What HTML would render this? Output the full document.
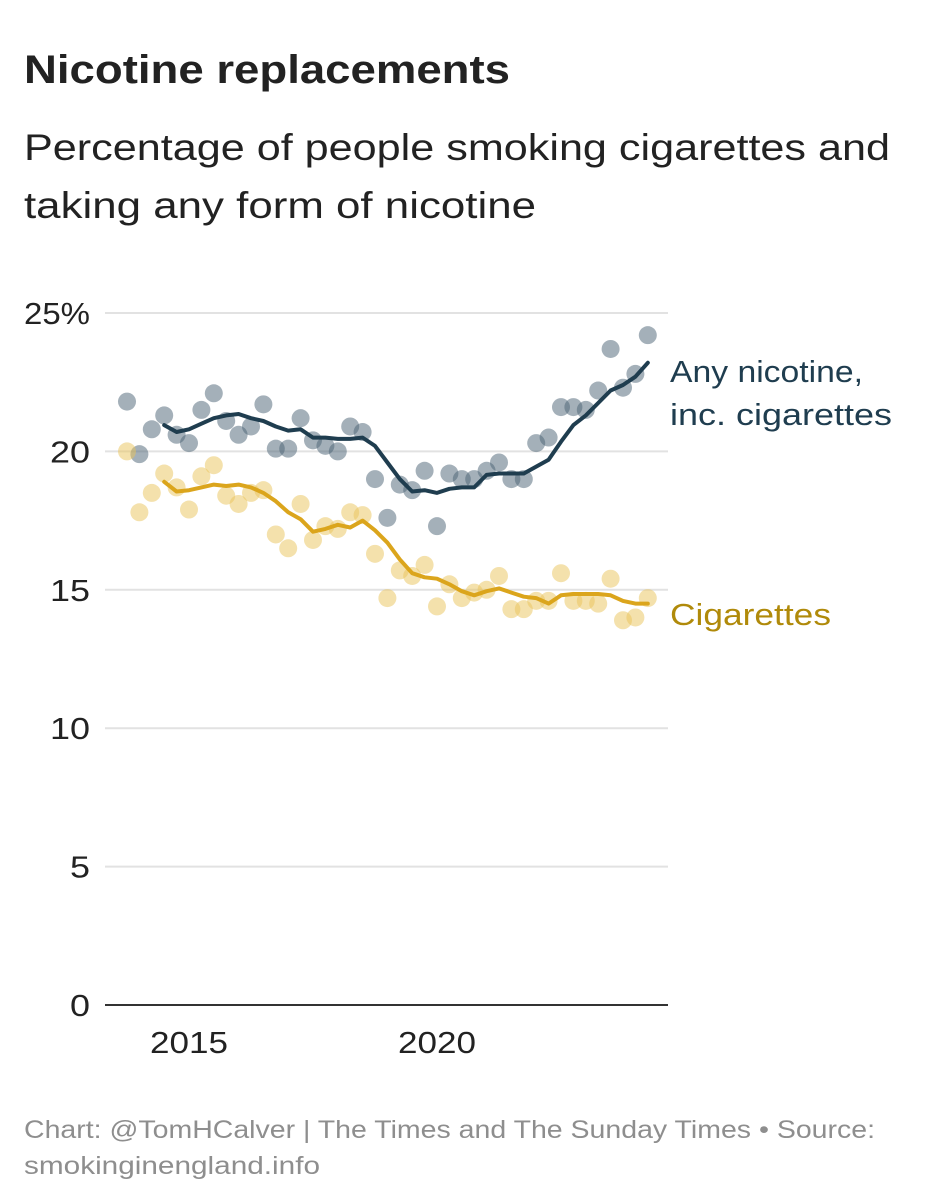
<!DOCTYPE html>
<html><head><meta charset="utf-8"><style>
body{margin:0;background:#fff;}
svg{display:block;font-family:"Liberation Sans",sans-serif;}
</style></head><body>
<svg id="chart" width="943" height="1200" viewBox="0 0 943 1200">
<text x="24" y="83" font-size="40" font-weight="bold" fill="#222" textLength="486" lengthAdjust="spacingAndGlyphs">Nicotine replacements</text>
<text x="24" y="160" font-size="37" fill="#222" textLength="866" lengthAdjust="spacingAndGlyphs">Percentage of people smoking cigarettes and</text>
<text x="24" y="218" font-size="37" fill="#222" textLength="512" lengthAdjust="spacingAndGlyphs">taking any form of nicotine</text>
<g id="grid"></g>
<g id="yticks"></g>
<g id="xticks"></g>
<g id="pts"></g>
<g id="lines"></g>
<text x="670" y="382" font-size="31" fill="#1f3d4f" textLength="193" lengthAdjust="spacingAndGlyphs">Any nicotine,</text>
<text x="670" y="425" font-size="31" fill="#1f3d4f" textLength="222" lengthAdjust="spacingAndGlyphs">inc. cigarettes</text>
<text x="670" y="625" font-size="31" fill="#b08a0a" textLength="161" lengthAdjust="spacingAndGlyphs">Cigarettes</text>
<text x="24" y="1138" font-size="25" fill="#8e8e8e" textLength="851" lengthAdjust="spacingAndGlyphs">Chart: @TomHCalver | The Times and The Sunday Times • Source:</text>
<text x="24" y="1174" font-size="25" fill="#8e8e8e" textLength="296" lengthAdjust="spacingAndGlyphs">smokinginengland.info</text>
</svg>
<script>
const yTicks=[0,5,10,15,20,25];
const yTickLabels=["0","5","10","15","20","25%"];
const xTicks=[2015,2020];
const xTickLabels=["2015","2020"];
const pointStart=2013.75;
const anyPoints=[21.8,19.9,20.8,21.3,20.6,20.3,21.5,22.1,21.1,20.6,20.9,21.7,20.1,20.1,21.2,20.4,20.2,20.0,20.9,20.7,19.0,17.6,18.8,18.6,19.3,17.3,19.2,19.0,19.0,19.3,19.6,19.0,19.0,20.3,20.5,21.6,21.6,21.5,22.2,23.7,22.3,22.8,24.2];
const cigPoints=[20.0,17.8,18.5,19.2,18.7,17.9,19.1,19.5,18.4,18.1,18.5,18.6,17.0,16.5,18.1,16.8,17.3,17.2,17.8,17.7,16.3,14.7,15.7,15.5,15.9,14.4,15.2,14.7,14.9,15.0,15.5,14.3,14.3,14.6,14.6,15.6,14.6,14.6,14.5,15.4,13.9,14.0,14.7];
const lineStart=2014.5;
const anyTrend=[20.95,20.7,20.8,21.0,21.2,21.3,21.35,21.2,21.1,20.9,20.75,20.8,20.5,20.5,20.45,20.45,20.5,20.2,19.6,19.0,18.55,18.6,18.5,18.65,18.7,18.7,19.15,19.2,19.2,19.2,19.45,19.7,20.35,20.95,21.3,21.75,22.2,22.4,22.7,23.2];
const cigTrend=[18.9,18.55,18.6,18.7,18.8,18.75,18.8,18.7,18.5,18.2,17.8,17.55,17.1,17.2,17.35,17.25,17.5,17.15,16.7,16.1,15.6,15.45,15.4,15.2,14.95,14.8,14.95,15.05,14.9,14.75,14.7,14.5,14.8,14.85,14.85,14.85,14.8,14.6,14.5,14.5];

const NS="http://www.w3.org/2000/svg";
const y=v=>1005-v*27.68;
const x=t=>189+(t-2015)*49.6;
function mk(tag,attrs,parent){const e=document.createElementNS(NS,tag);for(const k in attrs)e.setAttribute(k,attrs[k]);document.getElementById(parent).appendChild(e);return e;}
yTicks.forEach((v,i)=>{
  const l=mk('line',{x1:105,x2:668,y1:y(v),y2:y(v),stroke:v===0?'#333':'#e2e2e2','stroke-width':2},'grid');
  
  
  const lab=yTickLabels[i];
  const t=mk('text',{x:90,y:y(v)+11,'text-anchor':'end','font-size':31,fill:'#222',textLength:(lab.length===3?66:lab.length*20),lengthAdjust:'spacingAndGlyphs'},'yticks');
  t.textContent=lab;
  
  
});
xTicks.forEach((v,i)=>{
  const t=mk('text',{x:x(v),y:1053,'text-anchor':'middle','font-size':31,fill:'#222',textLength:78,lengthAdjust:'spacingAndGlyphs'},'xticks');
  t.textContent=xTickLabels[i];
  
  
});
function dots(arr,color,name){
  arr.forEach((v,i)=>{
    const c=mk('circle',{cx:x(pointStart+i*0.25),cy:y(v),r:9,fill:color,'fill-opacity':0.5},'pts');
    
    
  });
}
dots(anyPoints,'#4a6274','any-nicotine-point');
dots(cigPoints,'#eac35a','cigarettes-point');
function line(arr,color,name){
  const d=arr.map((v,i)=>(i?'L':'M')+x(lineStart+i*0.25).toFixed(1)+','+y(v).toFixed(1)).join('');
  const p=mk('path',{d:d,fill:'none',stroke:color,'stroke-width':4,'stroke-linejoin':'round','stroke-linecap':'round'},'lines');
  
  
}
line(anyTrend,'#1f3d4f','any-nicotine-trend-line');
line(cigTrend,'#dba51c','cigarettes-trend-line');
</script>
</body></html>
